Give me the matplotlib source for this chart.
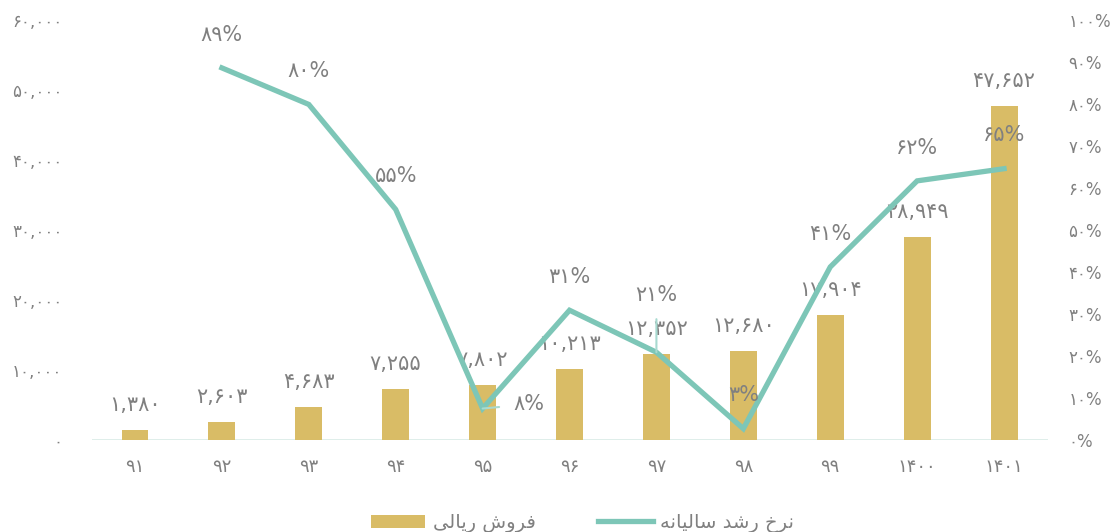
import matplotlib.pyplot as plt
import numpy as np

plt.rcParams['font.family'] = ['DejaVu Sans']

# data
years = ['۹۱', '۹۲', '۹۳', '۹۴', '۹۵', '۹۶', '۹۷', '۹۸', '۹۹', '۱۴۰۰', '۱۴۰۱']
sales = [1380, 2603, 4683, 7255, 7802, 10213, 12352, 12680, 17904, 28949, 47652]
growth = [None, 88.6, 79.9, 54.9, 7.5, 30.9, 20.9, 2.7, 41.2, 61.7, 64.6]

# matplotlib has no arabic shaping -> presentation forms in visual order
sales_label = '\ufef0\ufedf\ufe8e\ufef3\ufead \ufeb5\ufeed\ufeae\ufed3'            # فروش ریالی
growth_label = ('\ufeea\ufee7\ufe8e\ufef4\ufedf\ufe8e\ufeb3 \ufeaa\ufeb7\ufead '
                '\ufea5\ufeae\ufee7')                                         # نرخ رشد سالیانه

FA = str.maketrans('0123456789', '۰۱۲۳۴۵۶۷۸۹')


def fa(s):
    return str(s).translate(FA)


bar_color = '#D9BC66'
line_color = '#7DC6B7'
text_color = '#808080'

fig = plt.figure(figsize=(11.12, 5.32), dpi=100)
ax = fig.add_axes([0.0823, 0.1729, 0.8597, 0.7895])
ax2 = ax.twinx()

x = np.arange(len(years))
bars = ax.bar(x, sales, width=0.31, color=bar_color, label=sales_label, zorder=2)

gx = [i for i, g in enumerate(growth) if g is not None]
gy = [g / 100 for g in growth if g is not None]
line, = ax2.plot(gx, gy, color=line_color, lw=3.8, label=growth_label,
                 solid_joinstyle='miter', zorder=3)

ax.set_xlim(-0.5, len(years) - 0.5)
ax.set_ylim(0, 60000)
ax2.set_ylim(0, 1)

ax.set_xticks(x)
ax.set_xticklabels(years)
ax.set_yticks(np.arange(0, 60001, 10000))
ax.set_yticklabels([fa(f'{v:,}') for v in range(0, 60001, 10000)])
ax2.set_yticks(np.arange(0, 1.01, 0.1))
ax2.set_yticklabels([fa(f'{v}%') for v in range(0, 101, 10)])

for a in (ax, ax2):
    for s in a.spines.values():
        s.set_visible(False)
    a.tick_params(length=0, labelsize=12, colors=text_color)
ax.tick_params(axis='x', labelsize=13, pad=13)
ax.tick_params(axis='y', pad=21)
ax2.tick_params(axis='y', pad=15)
ax.axhline(0, color='#DCECE8', lw=2, zorder=1)

# bar labels
for xi, v in zip(x, sales):
    ax.annotate(fa(f'{v:,}'), (xi, v), xytext=(0, 18), textcoords='offset points',
                ha='center', va='center', fontsize=15, color=text_color)

# line labels
offsets = {4: (33, 3), 6: (0, 41)}
for xi, g in zip(gx, growth[1:]):
    dx, dy = offsets.get(xi, (0, 24))
    arrow = None
    if xi in offsets:
        arrow = dict(arrowstyle='-', color='#A8DAD0', lw=1.5, shrinkA=8, shrinkB=0)
    ax2.annotate(fa(f'{round(g)}%'), (xi, g / 100), xytext=(dx, dy),
                 textcoords='offset points', ha='center', va='center',
                 fontsize=15, color=text_color, arrowprops=arrow)

fig.legend(handles=[bars, line], loc='lower center', ncol=2, frameon=False,
           fontsize=14, labelcolor=text_color, bbox_to_anchor=(0.524, -0.035),
           handlelength=2.8, handletextpad=0.4, columnspacing=3.2)

plt.savefig('out.png', dpi=100)
